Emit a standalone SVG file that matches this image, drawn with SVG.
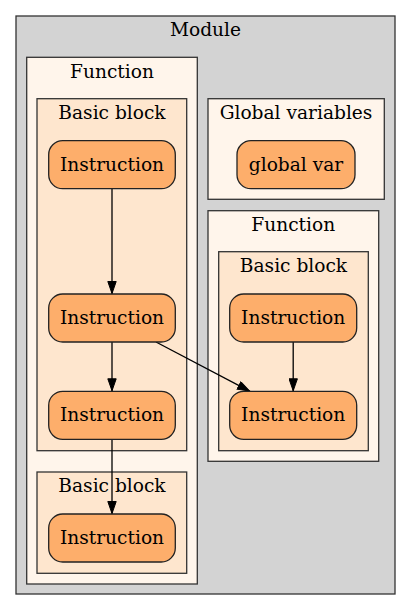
<svg xmlns="http://www.w3.org/2000/svg" width="411" height="611" viewBox="0 0 411 611">
<style>
text{font-family:"DejaVu Serif",serif;font-size:18.6px;fill:#000;text-anchor:middle}
.mod{fill:#d3d3d3;stroke:#333;stroke-width:1.3}
.fn{fill:#fff5eb;stroke:#333;stroke-width:1.3}
.bb{fill:#fee6ce;stroke:#333;stroke-width:1.3}
.nd{fill:#fdae6b;stroke:#222;stroke-width:1.3}
.edge{stroke:#000;stroke-width:1.3;fill:none}
</style>
<defs>
<marker id="ah" viewBox="0 0 13 9.4" refX="13" refY="4.7" markerWidth="13" markerHeight="9.4" markerUnits="userSpaceOnUse" orient="auto">
<path d="M0.5,0.5 L12.5,4.7 L0.5,8.9 Z" fill="#000" stroke="#000"/>
</marker>
</defs>
<g id="module">
<rect class="mod" x="16" y="16" width="379" height="578"/>
<text x="205.5" y="35.5">Module</text>
</g>
<g id="function1">
<rect class="fn" x="26.7" y="57.3" width="170.6" height="526.7"/>
<text x="112" y="78">Function</text>
</g>
<g id="bb1">
<rect class="bb" x="37" y="98.7" width="149.7" height="352"/>
<text x="112" y="119">Basic block</text>
</g>
<g id="bb2">
<rect class="bb" x="37" y="472" width="149.7" height="101.3"/>
<text x="112" y="491.7">Basic block</text>
</g>
<g id="globals">
<rect class="fn" x="208" y="98.7" width="176.3" height="100.6"/>
<text x="296" y="119">Global variables</text>
</g>
<g id="function2">
<rect class="fn" x="208" y="210.7" width="170.7" height="250.6"/>
<text x="293.3" y="230.7">Function</text>
</g>
<g id="bb3">
<rect class="bb" x="218.7" y="251.7" width="149.6" height="199"/>
<text x="293.5" y="271.7">Basic block</text>
</g>
<g id="connectors">
<path class="edge" d="M112,188.7 L112,294" marker-end="url(#ah)"/>
<path class="edge" d="M112,342 L112,391.3" marker-end="url(#ah)"/>
<path class="edge" d="M156,342 L250,391.3" marker-end="url(#ah)"/>
<path class="edge" d="M112,439.3 L112,514" marker-end="url(#ah)"/>
<path class="edge" d="M293.2,342 L293.2,391.3" marker-end="url(#ah)"/>
</g>
<g id="instr1">
<rect class="nd" x="48.7" y="140.7" width="126.6" height="48" rx="14"/>
<text x="112" y="170.5">Instruction</text>
</g>
<g id="instr2">
<rect class="nd" x="48.7" y="294" width="126.6" height="48" rx="14"/>
<text x="112" y="323.8">Instruction</text>
</g>
<g id="instr3">
<rect class="nd" x="48.7" y="391.3" width="126.6" height="48" rx="14"/>
<text x="112" y="421.1">Instruction</text>
</g>
<g id="instr4">
<rect class="nd" x="48.7" y="514" width="126.6" height="48" rx="14"/>
<text x="112" y="543.8">Instruction</text>
</g>
<g id="globalvar">
<rect class="nd" x="237" y="140.7" width="118" height="48" rx="14"/>
<text x="296" y="170.5">global var</text>
</g>
<g id="instr5">
<rect class="nd" x="229.7" y="294" width="127" height="48" rx="14"/>
<text x="293.2" y="323.8">Instruction</text>
</g>
<g id="instr6">
<rect class="nd" x="229.7" y="391.3" width="127" height="48" rx="14"/>
<text x="293.2" y="421.1">Instruction</text>
</g>
</svg>
